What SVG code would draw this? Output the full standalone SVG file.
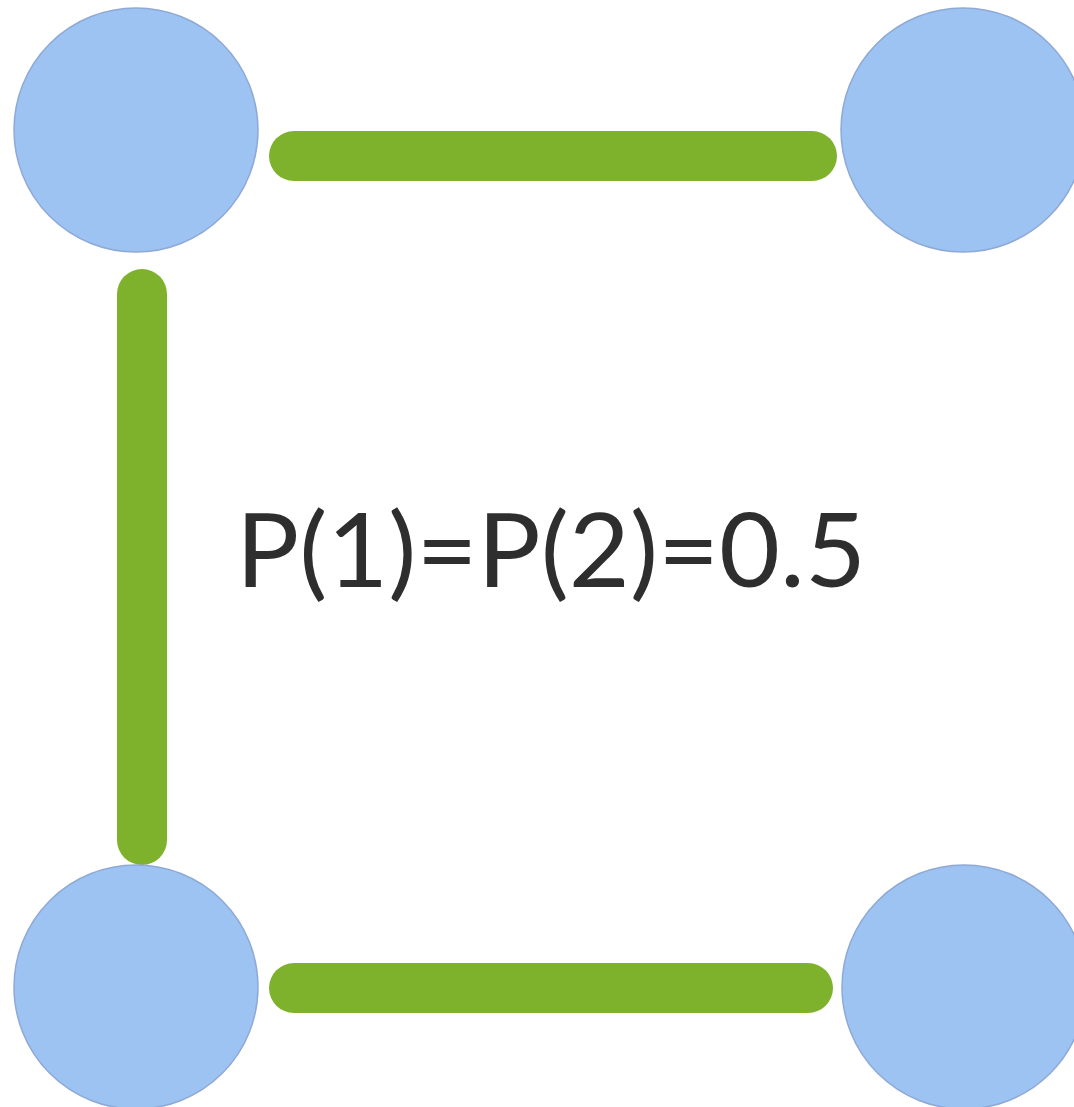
<svg xmlns="http://www.w3.org/2000/svg" width="1074" height="1107" viewBox="0 0 1074 1107">
<style>
.node{fill:#9cc3f2;stroke:#8fa9d6;stroke-width:1.5}
.edge{stroke:#7fb22c;stroke-width:50;stroke-linecap:round;fill:none}
.lbl{font-family:"Lato","Liberation Sans",sans-serif;font-size:102px;fill:#2e2e2e}
</style>
<rect width="1074" height="1107" fill="#ffffff"/>
<g id="connectors">
<line class="edge" x1="294" y1="156" x2="812" y2="156"/>
<line class="edge" x1="142" y1="294" x2="142" y2="840"/>
<line class="edge" x1="294" y1="988" x2="808" y2="988"/>
</g>
<g id="node-tl"><circle class="node" cx="136" cy="130" r="122"/></g>
<g id="node-tr"><circle class="node" cx="963" cy="130" r="122"/></g>
<g id="node-bl"><circle class="node" cx="136" cy="987" r="122"/></g>
<g id="node-br"><circle class="node" cx="964" cy="987" r="122"/></g>
<g id="label"><text class="lbl" x="236" y="587" textLength="630" lengthAdjust="spacingAndGlyphs">P(1)=P(2)=0.5</text></g>
</svg>
